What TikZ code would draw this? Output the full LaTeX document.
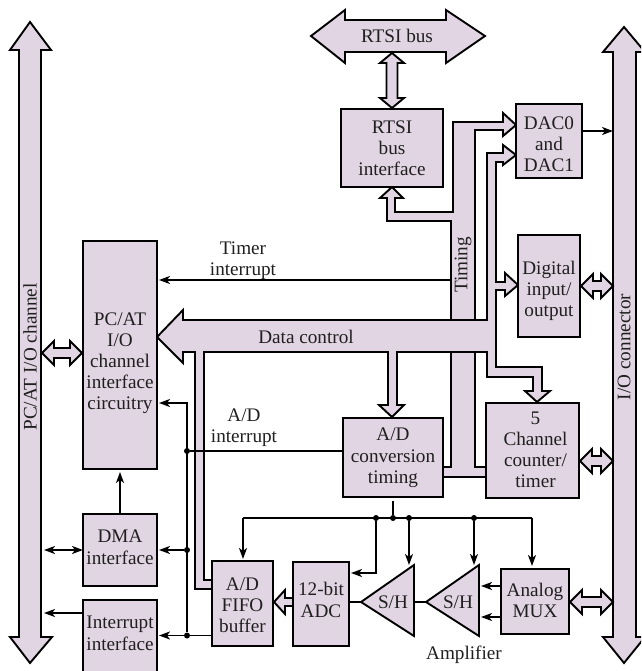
\documentclass[tikz,border=0pt]{standalone}
\usepackage{fontspec}
\setmainfont{Liberation Serif}
\usetikzlibrary{arrows.meta}
\definecolor{busfill}{HTML}{E2D5E3}
\newcommand\cellt[2]{\raisebox{\dimexpr-#1pt-6.5pt\relax}[0pt][0pt]{\begin{tabular}[c]{@{}c@{}}#2\end{tabular}}}
\newcommand\hollowH[3]{\draw[fatline] (#1,#3) -- ({#1+12},{#3-12}) -- ({#1+12},{#3-5}) -- ({#2-12},{#3-5}) -- ({#2-12},{#3-12}) -- (#2,#3) -- ({#2-12},{#3+12}) -- ({#2-12},{#3+5}) -- ({#1+12},{#3+5}) -- ({#1+12},{#3+12}) -- cycle;}
\tikzset{
  txt/.style={font=\fontsize{19.2}{21.2}\selectfont,text=black!88,inner sep=0pt},
  box/.style={txt,draw=black,line width=1.9pt,fill=busfill,inner sep=0pt,outer sep=0pt},
  fatline/.style={draw=black,line width=1.9pt,fill=busfill,line join=miter},
  sig/.style={draw=black,line width=1.7pt,-{Stealth[length=11pt,width=8pt,inset=3pt]}},
  sigtwo/.style={draw=black,line width=1.7pt,{Stealth[length=11pt,width=8pt,inset=3pt]}-{Stealth[length=11pt,width=8pt,inset=3pt]}},
  wire/.style={draw=black,line width=1.7pt},
  jdot/.style={fill=black,circle,inner sep=0pt,minimum size=6pt}
}
\begin{document}
\begin{tikzpicture}[x=1pt,y=-1pt]
\useasboundingbox (0,0) rectangle (641,671);
\clip (0,0) rectangle (641,671);
% system buses
\draw[fatline] (30,22) -- (51,50) -- (41,50) -- (41,637) -- (52,637) -- (30,663) -- (10,637) -- (19,637) -- (19,50) -- (10,50) -- cycle;
\draw[fatline] (624,27) -- (645,52) -- (636,52) -- (636,637) -- (645,637) -- (624,663) -- (603,637) -- (613,637) -- (613,52) -- (603,52) -- cycle;
\draw[fatline] (311,36) -- (345,10) -- (345,20) -- (446,20) -- (446,10) -- (485,36) -- (446,63) -- (446,52) -- (345,52) -- (345,63) -- cycle;
\node[txt] (lblrtsi) at (397,36) {RTSI bus};
\node[txt,rotate=90] (lblpc) at (30,357) {PC/AT I/O channel};
\node[txt,rotate=90] (lblio) at (624,347) {I/O connector};
% RTSI bus double arrow
\draw[fatline] (392,53) -- (404,63) -- (397.5,63) -- (397.5,98) -- (404,98) -- (392,108) -- (380,98) -- (386.5,98) -- (386.5,63) -- (380,63) -- cycle;
% timing bus
\draw[fatline] (392,187) -- (403,198) -- (395,198) -- (395,212) -- (453,212) -- (453,122) -- (503,122) -- (503,113) -- (516,125) -- (503,136) -- (503,130) -- (475,130) -- (475,467) -- (486,467) -- (486,477) -- (443,477) -- (443,467) -- (451,467) -- (451,221) -- (387,221) -- (387,198) -- (380,198) -- cycle;
\node[txt,rotate=90] (lbltiming) at (463,265) {Timing};
% data control bus
\draw[fatline] (157,337) -- (183,310) -- (183,320) -- (487,320) -- (487,153) -- (503,153) -- (503,145) -- (516,155) -- (503,165) -- (503,162) -- (496,162) -- (496,282) -- (505,282) -- (505,273) -- (518,285) -- (505,296) -- (505,290) -- (496,290) -- (496,367) -- (542,367) -- (542,391) -- (550,391) -- (537,402) -- (525,391) -- (533,391) -- (533,377) -- (487,377) -- (487,352) -- (397,352) -- (397,405) -- (404,405) -- (392,417) -- (379,405) -- (388,405) -- (388,352) -- (204,352) -- (204,580) -- (212,580) -- (212,589) -- (195,589) -- (195,352) -- (183,352) -- (183,363) -- cycle;
\node[txt] (lbldata) at (306,337) {Data control};
% blocks
\node[box,minimum width=102pt,minimum height=78pt] (rtsi) at (392,148) {\cellt{1}{RTSI\\bus\\interface}};
\node[box,minimum width=66pt,minimum height=74pt] (dac) at (549,141) {\cellt{4}{DAC0\\and\\DAC1}};
\node[box,minimum width=62pt,minimum height=102pt] (dio) at (549,286) {\cellt{4}{Digital\\input/\\output}};
\node[box,minimum width=74pt,minimum height=228pt] (pcat) at (120,355) {\cellt{7}{PC/AT\\I/O\\channel\\interface\\circuitry}};
\node[box,minimum width=74pt,minimum height=72pt] (dma) at (120,550) {\cellt{-2}{DMA\\interface}};
\node[box,minimum width=74pt,minimum height=90pt] (intr) at (120,645) {\cellt{-11}{Interrupt\\interface}};
\node[box,minimum width=100pt,minimum height=79pt] (adt) at (393,457.5) {\cellt{-1}{A/D\\conversion\\timing}};
\node[box,minimum width=93pt,minimum height=95pt] (cnt) at (532.5,450.5) {\hspace*{6pt}\cellt{0}{5\\Channel\\counter/\\timer}};
\node[box,minimum width=61pt,minimum height=85pt] (fifo) at (242.5,603.5) {\cellt{2.5}{A/D\\FIFO\\buffer}};
\node[box,minimum width=56pt,minimum height=84pt] (adc) at (321,604) {\cellt{-3}{12-bit\\ADC}};
\node[box,minimum width=68pt,minimum height=65pt] (mux) at (535,601.5) {\cellt{0}{Analog\\MUX}};
% sample and hold amplifiers
\draw[fatline] (361,602) -- (414,565) -- (414,636) -- cycle;
\draw[fatline] (426,602) -- (479,565) -- (479,636) -- cycle;
\node[txt] (sha) at (393,602) {S/H};
\node[txt] (shb) at (458,602) {S/H};
\node[txt] (lblamp) at (464,655) {Amplifier};
% hollow links
\hollowH{42}{82}{353}
\hollowH{581}{613}{286}
\hollowH{580}{613}{461}
\hollowH{570}{613}{602}
\draw[fatline] (274,602) -- (285,590) -- (285,598) -- (293,598) -- (293,606) -- (285,606) -- (285,614) -- cycle;
% timer and A/D interrupts
\node[txt,align=center] (lbltimer) at (243,261) {Timer\\interrupt};
\node[txt,align=center] (lblad) at (244,427.5) {A/D\\interrupt};
\coordinate (timersrc) at (451,280);
\coordinate (timerdst) at (159,280);
\draw[sig] (timersrc) -- (timerdst);
\node[jdot] (ja) at (187,451) {};
\node[jdot] (jb) at (187,550) {};
\node[jdot] (jc) at (187,635.5) {};
\coordinate (jtop) at (187,403);
\coordinate (pcin) at (159,403);
\coordinate (dmain) at (159,550);
\coordinate (intin) at (159,635.5);
\draw[wire] (adt.west |- ja) -- (ja);
\draw[sig] (jc) -- (jtop) -- (pcin);
\draw[sig] (jb) -- (dmain);
\draw[sig] (fifo.west |- jc) -- (intin);
\coordinate (dmaup) at (120,472);
\draw[sig] (dma.north) -- (dmaup);
\coordinate (busa) at (44,550);
\coordinate (busb) at (44,613);
\draw[sigtwo] (busa) -- (dma.west);
\draw[sig] (intr.west |- busb) -- (busb);
% DAC output
\coordinate (dacout) at (613,131);
\draw[sig] (dac.east |- dacout) -- (dacout);
% timing distribution
\coordinate (adtout) at (393,501);
\node[jdot] (tb) at (393,518) {};
\node[jdot] (ta) at (376,518) {};
\node[jdot] (tc) at (409,518) {};
\node[jdot] (td) at (474,518) {};
\coordinate (tl) at (243,518);
\coordinate (tr) at (532,518);
\coordinate (tfifo) at (243,559);
\coordinate (tmux) at (532,566);
\coordinate (tadcc) at (376,573);
\coordinate (tadc) at (351,573);
\coordinate (tsha) at (409,565);
\coordinate (tshb) at (474,565);
\draw[wire] (adtout) -- (tb);
\draw[sig] (tl |- tb) -- (tfifo);
\draw[wire] (tl) -- (tr);
\draw[sig] (tr) -- (tmux);
\draw[sig] (ta) -- (tadcc) -- (tadc);
\draw[sig] (tc) -- (tsha);
\draw[sig] (td) -- (tshb);
% analogue chain
\coordinate (shatip) at (361,602);
\coordinate (shbtip) at (426,602);
\coordinate (shaback) at (414,602);
\draw[wire] (adc.east |- shatip) -- (shatip);
\draw[wire] (shaback) -- (shbtip);
\coordinate (muxa) at (481,586);
\coordinate (muxb) at (481,617);
\draw[sig] (mux.west |- muxa) -- (muxa);
\draw[sig] (mux.west |- muxb) -- (muxb);
\end{tikzpicture}
\end{document}
